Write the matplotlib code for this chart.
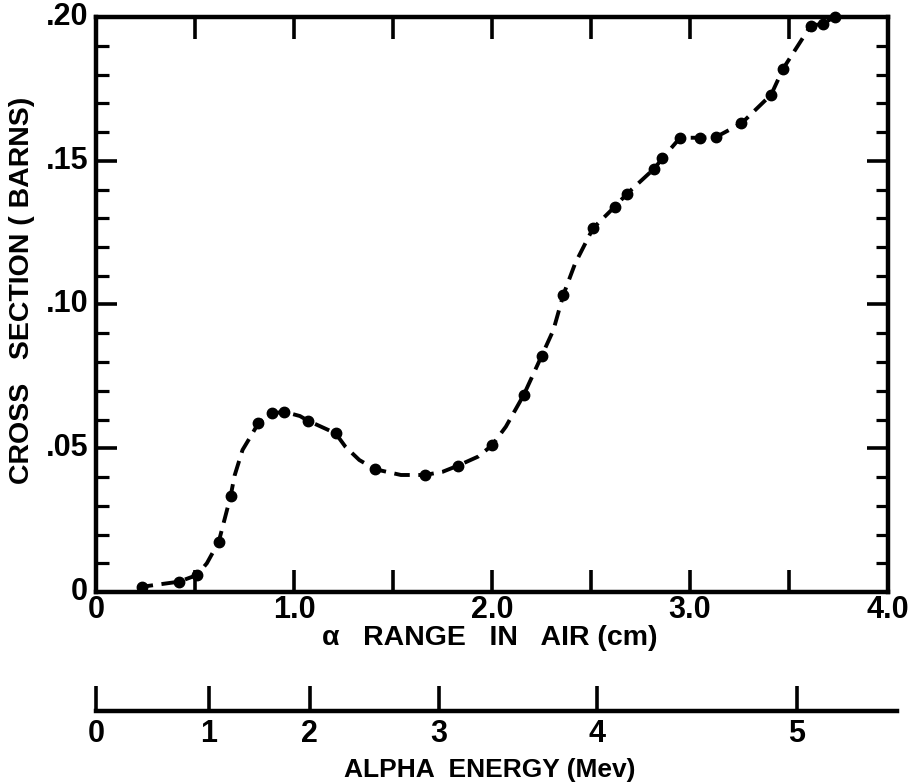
import matplotlib
matplotlib.use("Agg")
import matplotlib.pyplot as plt
from matplotlib.ticker import MultipleLocator

plt.rcParams['font.family'] = ['Liberation Sans Narrow', 'Liberation Sans', 'DejaVu Sans']
plt.rcParams['font.weight'] = 'bold'

# measured points: alpha range in air (cm) and cross section (barns)
range_cm = [0.23, 0.42, 0.51, 0.62, 0.68, 0.82, 0.89, 0.95, 1.07, 1.21,
            1.41, 1.66, 1.83, 2.00, 2.16, 2.25, 2.36, 2.51, 2.62, 2.68,
            2.82, 2.86, 2.95, 3.05, 3.13, 3.26, 3.41, 3.47, 3.61, 3.67, 3.73]
sigma = [0.0018, 0.0036, 0.0059, 0.0175, 0.0334, 0.0587, 0.0621, 0.0627,
         0.0596, 0.0552, 0.0427, 0.0407, 0.0440, 0.0510, 0.0685, 0.0820,
         0.1033, 0.1265, 0.1340, 0.1384, 0.1473, 0.1508, 0.1580, 0.1580,
         0.1582, 0.1630, 0.1730, 0.1820, 0.1970, 0.1976, 0.2000]

# hand-drawn dashed curve
curve_cm = [0.21, 0.23, 0.42, 0.51, 0.56, 0.62, 0.68, 0.70, 0.74, 0.78,
            0.82, 0.89, 0.95, 1.03, 1.07, 1.21, 1.26, 1.33, 1.41, 1.54,
            1.66, 1.75, 1.83, 1.93, 2.00, 2.07, 2.16, 2.25, 2.31, 2.36,
            2.42, 2.51, 2.62, 2.68, 2.82, 2.86, 2.95, 3.05, 3.13, 3.26,
            3.41, 3.47, 3.61, 3.67, 3.73]
curve_sigma = [0.0016, 0.0018, 0.0036, 0.0059, 0.0100, 0.0175, 0.0334, 0.0405,
               0.0494, 0.0540, 0.0587, 0.0621, 0.0627, 0.0612, 0.0596, 0.0552,
               0.0505, 0.0459, 0.0427, 0.0407, 0.0407, 0.0418, 0.0440, 0.0471,
               0.0510, 0.0575, 0.0685, 0.0820, 0.0911, 0.1033, 0.1143, 0.1265,
               0.1340, 0.1384, 0.1473, 0.1508, 0.1580, 0.1580, 0.1582, 0.1630,
               0.1730, 0.1820, 0.1970, 0.1976, 0.2000]

# alpha energy scale (Mev) and where it falls on the range axis (cm)
energy_mev = [0, 1, 2, 3, 4, 5]
energy_at_cm = [0.0, 0.57, 1.08, 1.73, 2.53, 3.54]

x_ticks = [0, 1.0, 2.0, 3.0, 4.0]
x_labels = ['0', '1.0', '2.0', '3.0', '4.0']
y_ticks = [0, 0.05, 0.10, 0.15, 0.20]
y_labels = ['0', '.05', '.10', '.15', '.20']

fig = plt.figure(figsize=(9.08, 7.84), dpi=100)
ax = fig.add_axes([96/908, 1-592/784, (888-96)/908, (592-17)/784])

ax.plot(curve_cm, curve_sigma, color='black', lw=2.8, dashes=(4.0, 2.2),
        clip_on=False)
ax.plot(range_cm, sigma, 'o', color='black', ms=7.5, clip_on=False)

ax.set_xlim(0, 4.0)
ax.set_ylim(0, 0.20)

for s in ax.spines.values():
    s.set_linewidth(3.2)

ax.xaxis.set_major_locator(MultipleLocator(0.5))
ax.yaxis.set_major_locator(MultipleLocator(0.05))
ax.yaxis.set_minor_locator(MultipleLocator(0.01))
ax.tick_params(axis='x', which='major', direction='in', length=16, width=2.6,
               top=True, bottom=True, labelbottom=False)
ax.tick_params(axis='y', which='major', direction='in', length=15, width=2.6,
               left=True, right=True, labelleft=False)
ax.tick_params(axis='y', which='minor', direction='in', length=9, width=2.3,
               left=True, right=True)

for xv, lab in zip(x_ticks, x_labels):
    ax.text(xv, -0.0012, lab, ha='center', va='top', fontsize=22,
            fontweight='bold', clip_on=False)
for yv, lab in zip(y_ticks, y_labels):
    ax.text(-0.04, yv, lab, ha='right', va='center', fontsize=22,
            fontweight='bold', clip_on=False)

fig.text(490/908, 1-638/784, 'α   RANGE   IN   AIR (cm)', ha='center',
         va='center', fontsize=20.5, fontweight='bold')
fig.text(22/908, 1-290/784, 'CROSS   SECTION ( BARNS)', ha='center',
         va='center', rotation=90, fontsize=20.5, fontweight='bold')

# energy scale under the main plot
ax2 = fig.add_axes([96/908, 1-711/784, (897-96)/908, 0.03])
ax2.set_xlim(0, 801/198)
ax2.set_ylim(0, 1)
for k in ['top', 'left', 'right']:
    ax2.spines[k].set_visible(False)
ax2.spines['bottom'].set_linewidth(3.2)
ax2.patch.set_alpha(0)
ax2.set_yticks([])
ax2.set_xticks(energy_at_cm)
ax2.set_xticklabels([str(e) for e in energy_mev], fontsize=22, fontweight='bold')
ax2.tick_params(axis='x', direction='in', length=18, width=2.6, pad=6)

fig.text(490/908, 1-770/784, 'ALPHA  ENERGY (Mev)', ha='center', va='center',
         fontsize=19, fontweight='bold')

fig.savefig('out.png', dpi=100)
